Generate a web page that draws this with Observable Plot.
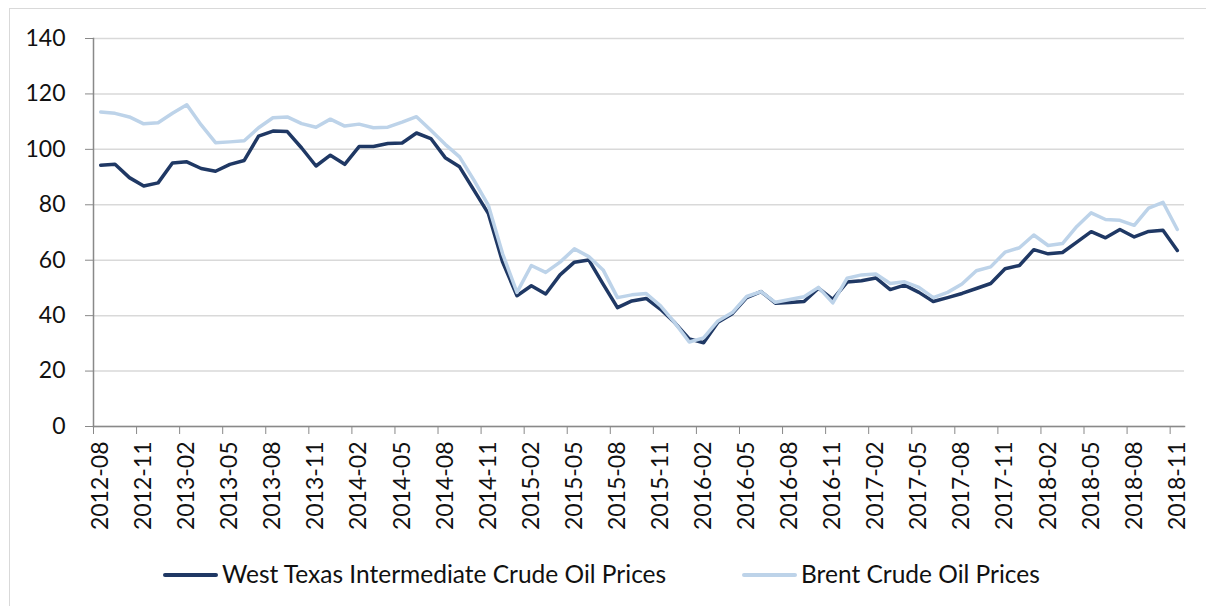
<!DOCTYPE html>
<html>
<head>
<meta charset="utf-8">
<script src="https://cdn.jsdelivr.net/npm/d3@7"></script>
<script src="https://cdn.jsdelivr.net/npm/@observablehq/plot@0.6"></script>
<style>
html, body { margin: 0; padding: 0; background: #fff; }
body { width: 1206px; height: 606px; overflow: hidden; position: relative; font-family: Lato, sans-serif; }
#frame { position: absolute; left: 9px; top: 8px; width: 1300px; height: 700px; border: 1.5px solid #d9d9d9; box-sizing: border-box; }
#chart { position: absolute; left: 0; top: 0; }
#legend { position: absolute; left: 0; top: 545px; width: 1206px; height: 61px; }
.sw { position: absolute; height: 4px; border-radius: 2px; }
.lt { position: absolute; font-size: 24.5px; color: #111; line-height: 1; white-space: nowrap; }
</style>
</head>
<body>
<div id="frame"></div>
<div id="chart"></div>
<div id="legend">
  <div class="sw" style="left:163px; top:28px; width:55px; background:#1f3864;"></div>
  <div class="lt" style="left:222px; top:17px;">West Texas Intermediate Crude Oil Prices</div>
  <div class="sw" style="left:742px; top:28px; width:55px; background:#bdd3e9;"></div>
  <div class="lt" style="left:801px; top:17px;">Brent Crude Oil Prices</div>
</div>
<script>
const months = [
  "2012-08","2012-09","2012-10","2012-11","2012-12",
  "2013-01","2013-02","2013-03","2013-04","2013-05","2013-06","2013-07","2013-08","2013-09","2013-10","2013-11","2013-12",
  "2014-01","2014-02","2014-03","2014-04","2014-05","2014-06","2014-07","2014-08","2014-09","2014-10","2014-11","2014-12",
  "2015-01","2015-02","2015-03","2015-04","2015-05","2015-06","2015-07","2015-08","2015-09","2015-10","2015-11","2015-12",
  "2016-01","2016-02","2016-03","2016-04","2016-05","2016-06","2016-07","2016-08","2016-09","2016-10","2016-11","2016-12",
  "2017-01","2017-02","2017-03","2017-04","2017-05","2017-06","2017-07","2017-08","2017-09","2017-10","2017-11","2017-12",
  "2018-01","2018-02","2018-03","2018-04","2018-05","2018-06","2018-07","2018-08","2018-09","2018-10","2018-11"
];
const wti = [
  94.3, 94.6, 89.8, 86.8, 87.9,
  95.1, 95.5, 93.1, 92.1, 94.6, 96.0, 104.8, 106.6, 106.4, 100.5, 94.0, 97.9,
  94.6, 101.0, 101.0, 102.1, 102.3, 105.9, 103.9, 97.0, 93.7, 85.3, 76.9, 59.3,
  47.2, 50.8, 47.8, 54.7, 59.3, 60.1, 51.4, 42.9, 45.3, 46.2, 42.3, 37.4,
  31.6, 30.2, 37.6, 40.7, 46.5, 48.7, 44.5, 44.7, 45.1, 49.9, 45.9, 52.1,
  52.6, 53.6, 49.4, 51.0, 48.4, 45.1, 46.5, 48.0, 49.8, 51.6, 56.9, 58.1,
  63.8, 62.3, 62.8, 66.5, 70.3, 68.1, 71.1, 68.4, 70.4, 70.8, 63.5
];
const brent = [
  113.5, 113.0, 111.7, 109.2, 109.6,
  113.0, 116.1, 108.8, 102.4, 102.7, 103.1, 107.8, 111.4, 111.7, 109.3, 108.0, 110.9,
  108.4, 109.1, 107.8, 108.0, 109.8, 111.8, 106.9, 101.8, 97.3, 88.9, 79.9, 62.3,
  48.4, 58.1, 55.6, 59.3, 64.1, 61.3, 56.5, 46.5, 47.5, 48.0, 43.5, 37.4,
  30.5, 32.0, 38.1, 41.1, 46.9, 48.7, 44.8, 45.8, 46.8, 50.2, 44.6, 53.5,
  54.7, 55.0, 51.6, 52.2, 50.2, 46.5, 48.4, 51.4, 56.2, 57.6, 62.9, 64.5,
  69.1, 65.3, 66.0, 72.2, 77.1, 74.7, 74.4, 72.6, 78.8, 80.9, 71.1
];
const xTickLabels = [
  "2012-08","2012-11","2013-02","2013-05","2013-08","2013-11","2014-02","2014-05","2014-08",
  "2014-11","2015-02","2015-05","2015-08","2015-11","2016-02","2016-05","2016-08","2016-11",
  "2017-02","2017-05","2017-08","2017-11","2018-02","2018-05","2018-08","2018-11"
];
const yTicks = [0, 20, 40, 60, 80, 100, 120, 140];
const seriesNames = ["West Texas Intermediate Crude Oil Prices", "Brent Crude Oil Prices"];
const seriesColors = ["#1f3864", "#bdd3e9"];

const W = 1206, H = 545, mL = 93, mR = 22, mT = 38, mB = 119;
const step = (W - mL - mR) / months.length;

const rows = [];
months.forEach((m, i) => rows.push({month: m, value: wti[i], series: seriesNames[0]}));
months.forEach((m, i) => rows.push({month: m, value: brent[i], series: seriesNames[1]}));

const axisColor = "#898989";
const chart = Plot.plot({
  width: W, height: H,
  marginLeft: mL, marginRight: mR, marginTop: mT, marginBottom: mB,
  style: {fontFamily: "Lato, sans-serif", fontSize: "23px", color: "#111", background: "transparent"},
  x: {type: "point", domain: months, padding: 0.5, round: false, label: null},
  y: {domain: [0, 140], ticks: yTicks, label: null},
  color: {domain: seriesNames, range: seriesColors},
  marks: [
    Plot.gridY(yTicks, {stroke: "#d9d9d9", strokeOpacity: 1, strokeWidth: 1.5}),
    Plot.axisY(yTicks, {tickSize: 8, tickPadding: 20, stroke: axisColor, fontSize: 23, label: null}),
    Plot.axisX(xTickLabels, {tickSize: 0, tickPadding: 15, tickRotate: -90, fontSize: 23, label: null}),
    Plot.axisX(xTickLabels, {tickSize: 8, stroke: axisColor, fill: "none", dx: -step / 2, label: null}),
    Plot.frame({anchor: "left", stroke: axisColor, strokeWidth: 1.5}),
    Plot.frame({anchor: "bottom", stroke: axisColor, strokeWidth: 1.5}),
    Plot.line(rows, {x: "month", y: "value", stroke: "series", z: "series", strokeWidth: 3.5, strokeLinejoin: "round", strokeLinecap: "round"})
  ]
});
document.getElementById("chart").appendChild(chart);
</script>
</body>
</html>
